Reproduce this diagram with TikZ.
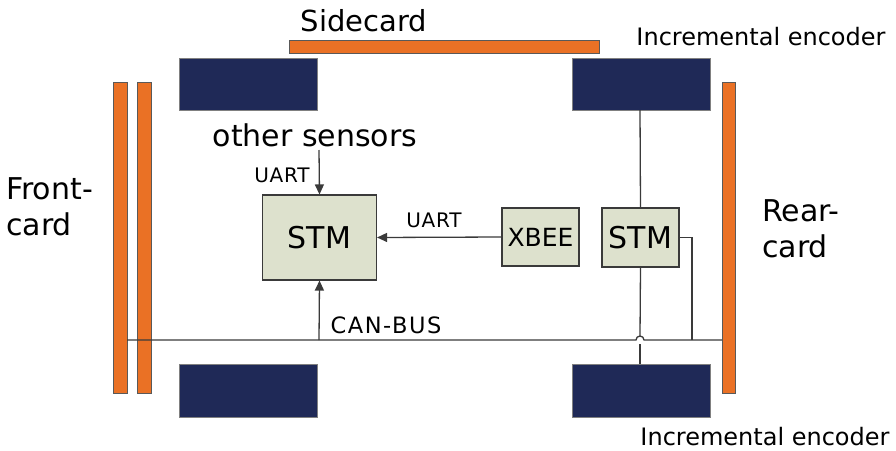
\documentclass[tikz,border=0pt]{standalone}
\usepackage{fontspec}
\setmainfont{DejaVu Sans}
\usetikzlibrary{arrows.meta}
\definecolor{navy}{HTML}{1F2957}
\definecolor{orng}{HTML}{EA7125}
\definecolor{boxfill}{HTML}{DDE1CD}
\definecolor{ln}{HTML}{3A3A3A}
\begin{document}
\begin{tikzpicture}[x=1pt,y=-1pt,
  bar/.style={fill=orng,draw=gray!70!black,line width=0.7pt},
  wheel/.style={fill=navy,draw=gray,line width=0.6pt},
  chip/.style={fill=boxfill,draw=ln,line width=1.1pt,inner sep=0pt},
  wire/.style={draw=ln,line width=1.3pt},
  arr/.style={wire,-{Triangle[length=10pt,width=9pt]}},
  big/.style={font=\fontsize{30}{36}\selectfont,inner sep=0pt},
  lbl/.style={font=\fontsize{20}{24}\selectfont\addfontfeature{LetterSpace=4},inner sep=0pt},
  enc/.style={font=\fontsize{24}{28}\selectfont,inner sep=0pt}]
\useasboundingbox (0,0) rectangle (896,450);
% bars
\draw[bar] (289,40) rectangle (599,53);
\draw[bar] (113,82) rectangle (127,393);
\draw[bar] (137,82) rectangle (151,393);
\draw[bar] (722,82) rectangle (735,393);
% wheels
\draw[wheel] (179,58) rectangle (317,110);
\draw[wheel] (572,58) rectangle (710,110);
\draw[wheel] (179,364) rectangle (317,417);
\draw[wheel] (572,364) rectangle (710,417);
% coordinates
\coordinate (busL) at (127,340);
\coordinate (busR) at (722,340);
\coordinate (tap) at (319,340);
\coordinate (trTop) at (640,110);
\coordinate (brTop) at (640,364);
\coordinate (hopL) at (636,340);
\coordinate (rtap) at (692,340);
\coordinate (othb) at (319,150);
% chips
\node[chip,minimum width=114pt,minimum height=85pt] (stm) at (319.5,237.5) {};
\node[big] at (stm.center) {STM};
\node[chip,minimum width=77pt,minimum height=58pt] (xbee) at (540.5,237) {};
\node[font=\fontsize{25}{30}\selectfont,inner sep=0pt] at (xbee.center) {XBEE};
\node[chip,minimum width=77pt,minimum height=59pt] (stm2) at (640.5,237.5) {};
\node[big] at (stm2.center) {STM};
% texts
\node[font=\fontsize{29}{34}\selectfont,inner sep=0pt] (side) at (364,21) {Sidecard};
\node[enc] (enc1) at (761,37) {Incremental encoder};
\node[enc] (enc2) at (765,437) {Incremental encoder};
\node[big] (oth) at (315,135) {other sensors};
\node[lbl] (u1) at (282,175) {UART};
\node[lbl] (u2) at (434,220) {UART};
\node[font=\fontsize{22.5}{26}\selectfont\addfontfeature{LetterSpace=7},inner sep=0pt] (can) at (386,325) {CAN-BUS};
\node[big,align=left,anchor=west] (front) at (6,207) {Front-\\card};
\node[big,align=left,anchor=west] (rear) at (762,229) {Rear-\\card};
% wires
\draw[wire] (busL) -- (hopL) arc[start angle=180,end angle=0,radius=4pt] -- (busR);
\draw[arr] (tap) -- (stm.south);
\draw[arr] (othb) -- (stm.north);
\draw[arr] (xbee.west) -- (stm.east);
\draw[wire] (trTop) -- (stm2.north);
\draw[wire] (stm2.south) -- (640,336);
\draw[wire] (640,344) -- (brTop);
\draw[wire] (stm2.east) -| (rtap);
\end{tikzpicture}
\end{document}
